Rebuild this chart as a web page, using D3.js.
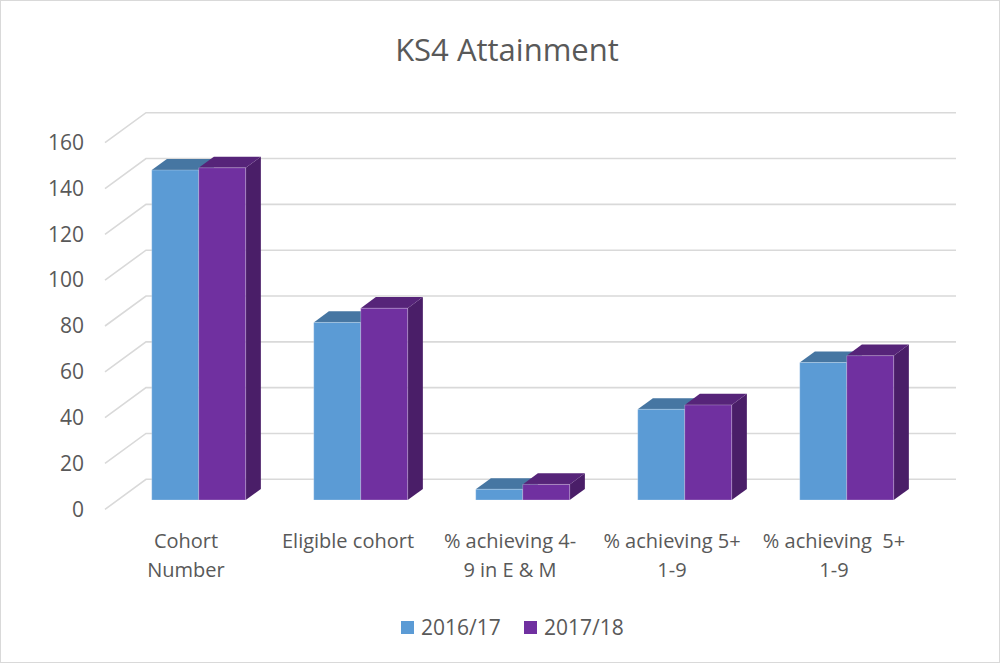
<!DOCTYPE html>
<html>
<head>
<meta charset="utf-8">
<script src="https://cdn.jsdelivr.net/npm/d3@7"></script>
<style>
    body { margin: 0; background: #fff; }
    svg { display: block; }
    text { font-family: "Open Sans", sans-serif; fill: #595959; }
</style>
</head>
<body>
<div id="chart"></div>
<script>
// KS4 Attainment - 3D clustered column chart

const categories = [
    ['Cohort', 'Number'],
    ['Eligible cohort'],
    ['% achieving 4-', '9 in E & M'],
    ['% achieving 5+', '1-9'],
    ['% achieving  5+', '1-9']
];
const seriesNames = ['2016/17', '2017/18'];
const values2016 = [144, 77.5, 4.7, 39.6, 60];
const values2017 = [145, 83.7, 6.8, 41.5, 63];
const yTicks = [0, 20, 40, 60, 80, 100, 120, 140, 160];

const colors = {
    '2016/17': {front: '#5B9BD5', top: '#4676A2', side: '#3F6C95'},
    '2017/18': {front: '#7030A0', top: '#562479', side: '#4A1E68'}
};

const width = 1001, height = 664;

const svg = d3.select('#chart')
    .append('svg')
    .attr('width', width)
    .attr('height', height);

// outer frame
svg.append('rect')
    .attr('x', 0.5).attr('y', 0.5)
    .attr('width', width - 2).attr('height', height - 2)
    .attr('fill', '#fff')
    .attr('stroke', '#d9d9d9');

// back wall scales
const x0 = d3.scaleBand()
    .domain(d3.range(categories.length))
    .range([146, 956])
    .paddingInner(0.42)
    .paddingOuter(0.21);

const x1 = d3.scaleBand()
    .domain(seriesNames)
    .range([0, x0.bandwidth()]);

const y = d3.scaleLinear()
    .domain([0, 160])
    .range([479.3, 112.7]);

// depth vector from back wall to front edge
const depth = {dx: -41, dy: 30};
const fFront = 0.69, fBack = 0.32;

const pt = (xv, v, f) => [xv + f * depth.dx, y(v) + f * depth.dy];

// gridlines: side wall diagonal + back wall horizontal
const grid = svg.append('g').attr('class', 'grid');
grid.selectAll('polyline')
    .data(yTicks)
    .enter()
    .append('polyline')
    .attr('points', d => [pt(146, d, 1), pt(146, d, 0), pt(956, d, 0)].map(p => p.join(',')).join(' '))
    .attr('fill', 'none')
    .attr('stroke', '#d9d9d9')
    .attr('stroke-width', 1.6);

// y axis on the front edge
const yFront = y.copy().range(y.range().map(r => r + depth.dy));
const yAxis = svg.append('g')
    .attr('transform', `translate(${146 + depth.dx},0)`)
    .call(d3.axisLeft(yFront).tickValues(yTicks).tickSize(0).tickPadding(21));
yAxis.select('.domain').remove();
yAxis.selectAll('text')
    .style('font-size', '21px')
    .attr('fill', '#595959');

// bars
const barData = [];
categories.forEach((c, i) => {
    [values2016, values2017].forEach((vals, s) => {
        const name = seriesNames[s];
        barData.push({i, name, value: vals[i], xl: x0(i) + x1(name), xr: x0(i) + x1(name) + x1.bandwidth()});
    });
});

const poly = pts => pts.map(p => p.join(',')).join(' ');

const bars = svg.append('g').attr('class', 'bars')
    .selectAll('g')
    .data(barData)
    .enter()
    .append('g');

bars.append('polygon')
    .attr('points', d => poly([pt(d.xr, 0, fFront), pt(d.xr, 0, fBack), pt(d.xr, d.value, fBack), pt(d.xr, d.value, fFront)]))
    .attr('fill', d => colors[d.name].side);

bars.append('polygon')
    .attr('points', d => poly([pt(d.xl, d.value, fFront), pt(d.xr, d.value, fFront), pt(d.xr, d.value, fBack), pt(d.xl, d.value, fBack)]))
    .attr('fill', d => colors[d.name].top);

bars.append('polygon')
    .attr('points', d => poly([pt(d.xl, 0, fFront), pt(d.xr, 0, fFront), pt(d.xr, d.value, fFront), pt(d.xl, d.value, fFront)]))
    .attr('fill', d => colors[d.name].front)
    .attr('stroke', 'rgba(255,255,255,0.25)')
    .attr('stroke-width', 1);

// category labels
const labels = svg.append('g').attr('class', 'x-labels')
    .selectAll('text')
    .data(categories)
    .enter()
    .append('text')
    .attr('x', (d, i) => x0(i) + x0.bandwidth() / 2 + depth.dx)
    .attr('y', 548)
    .attr('text-anchor', 'middle')
    .style('font-size', '20px')
    .style('white-space', 'pre');

labels.selectAll('tspan')
    .data(d => d)
    .enter()
    .append('tspan')
    .attr('x', function() { return d3.select(this.parentNode).attr('x'); })
    .attr('dy', (d, j) => j === 0 ? 0 : 29)
    .text(d => d);

// title
svg.append('text')
    .attr('x', 507)
    .attr('y', 61)
    .attr('text-anchor', 'middle')
    .style('font-size', '31px')
    .text('KS4 Attainment');

// legend
const legendX = [401, 524];
const legend = svg.append('g').attr('class', 'legend')
    .selectAll('g')
    .data(seriesNames)
    .enter()
    .append('g')
    .attr('transform', (d, i) => `translate(${legendX[i]},621)`);

legend.append('rect')
    .attr('width', 13)
    .attr('height', 13)
    .attr('fill', d => colors[d].front);

legend.append('text')
    .attr('x', 20)
    .attr('y', 14)
    .style('font-size', '21px')
    .text(d => d);
</script>
</body>
</html>
